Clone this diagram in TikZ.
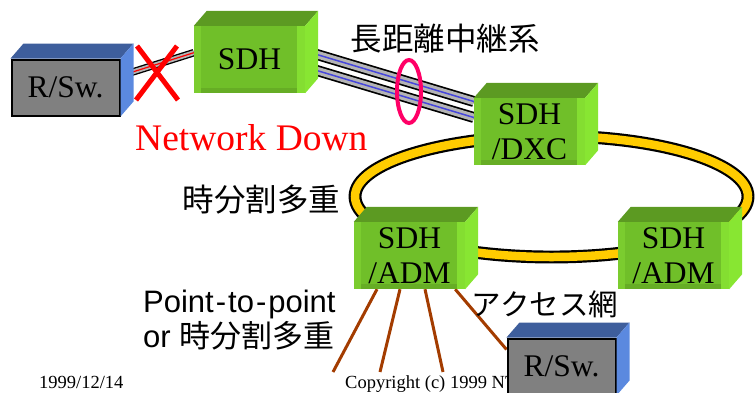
\documentclass[tikz,border=0pt]{standalone}
\usepackage{fontspec}
\setmainfont{Liberation Serif}
\newfontfamily\gothic{Noto Sans CJK JP}
\newfontfamily\arial{Liberation Sans}
\usetikzlibrary{backgrounds}

\definecolor{gtop}{HTML}{5C9A22}
\definecolor{gfront}{HTML}{70BF29}
\definecolor{gleft}{HTML}{7BCC2F}
\definecolor{gright}{HTML}{84DE31}
\definecolor{gbottom}{HTML}{66AD25}
\definecolor{gside}{HTML}{88E632}
\definecolor{rgray}{HTML}{808080}
\definecolor{btop}{HTML}{3E5E9C}
\definecolor{bside}{HTML}{5B89DF}
\definecolor{ringgold}{HTML}{FFCC00}
\definecolor{wirebrown}{HTML}{A33C00}
\definecolor{bundlepink}{HTML}{FF0066}
\definecolor{cablegray}{HTML}{B4B4B4}
\definecolor{cableblue}{HTML}{4646DC}

\begin{document}
\begin{tikzpicture}[x=1pt, y=-1pt,
    box/.style={inner sep=0pt, minimum width=111pt, minimum height=67pt, align=center, font=\fontsize{31.5}{35}\selectfont},
    sdhbox/.style={box, fill=gfront, path picture={
        \fill[gleft] (path picture bounding box.north west) rectangle ([xshift=7pt]path picture bounding box.south west);
        \fill[gright] ([xshift=-8pt]path picture bounding box.north east) rectangle (path picture bounding box.south east);
        \fill[gbottom] ([shift={(7pt,5pt)}]path picture bounding box.south west) rectangle ([xshift=-8pt]path picture bounding box.south east);
    }},
    router/.style={box, minimum width=108pt, minimum height=56pt, fill=rgray, draw=black, line width=2pt},
    cjk/.style={inner sep=0pt, font=\gothic\fontsize{31.5}{36}\selectfont},
    trunk/.style={draw=cableblue, line width=1.5pt, preaction={draw=black, line width=11pt}, preaction={draw=cablegray, line width=7.6pt}},
    link/.style={draw=red, line width=1.2pt, preaction={draw=black, line width=7.5pt}, preaction={draw=cablegray, line width=4.8pt}},
    ring/.style={draw=black, line width=2.2pt, double=ringgold, double distance=8.5pt},
    wire/.style={draw=wirebrown, line width=3pt},
    cut/.style={draw=red, line width=5pt}]
    \useasboundingbox (0,0) rectangle (755,392);

    \node[sdhbox] (sdh) at (249.5, 59.5) {SDH};
    \node[sdhbox] (dxc) at (529.5, 131.5) {SDH\\/DXC};
    \node[sdhbox] (adma) at (409.5, 255.5) {SDH\\/ADM};
    \node[sdhbox] (admb) at (673.5, 255.5) {SDH\\/ADM};
    \node[router] (rswa) at (65.5, 87.5) {R/Sw.};

    \node[anchor=base west, inner sep=0pt, font=\fontsize{18.5}{20}\selectfont] (date) at (39, 388) {1999/12/14};
    \node[anchor=base west, inner sep=0pt, font=\fontsize{18.5}{20}\selectfont] (copy) at (345, 388) {Copyright (c) 1999 NTT};

    \node[router] (rswb) at (561.5, 366.5) {R/Sw.};

    % top and side faces of the boxes
    \foreach \n in {sdh, dxc, adma, admb} {
        \fill[gtop] (\n.north west) -- ([shift={(13pt,15pt)}]\n.north west) -- ([shift={(13pt,15pt)}]\n.north east) -- (\n.north east) -- cycle;
        \fill[gside] (\n.north east) -- ([shift={(13pt,15pt)}]\n.north east) -- ([shift={(13pt,15pt)}]\n.south east) -- (\n.south east) -- cycle;
    }
    \foreach \n in {rswa, rswb} {
        \fill[btop] (\n.north west) -- ([shift={(13pt,15pt)}]\n.north west) -- ([shift={(13pt,15pt)}]\n.north east) -- (\n.north east) -- cycle;
        \fill[bside] (\n.north east) -- ([shift={(13pt,15pt)}]\n.north east) -- ([shift={(13pt,15pt)}]\n.south east) -- (\n.south east) -- cycle;
    }

    \coordinate (d1) at (333, 372);
    \coordinate (d2) at (380, 372);
    \coordinate (d3) at (443, 372);

    \begin{scope}[on background layer]
        \draw[ring] (551.5, 196.5) ellipse [x radius=196.5pt, y radius=60.5pt];
        \draw[trunk] ([yshift=8.5pt]sdh.east) -- ([yshift=30pt]dxc.west);
        \draw[trunk] ([yshift=-7.5pt]sdh.east) -- ([yshift=14pt]dxc.west);
        \draw[link] ([yshift=11.7pt]rswa.east) -- ([yshift=6.8pt]sdh.west);
        \draw[wire] ([xshift=-32.5pt]adma.south) -- (d1);
        \draw[wire] ([xshift=-9.5pt]adma.south) -- (d2);
        \draw[wire] ([xshift=15.5pt]adma.south) -- (d3);
        \draw[wire] ([xshift=-10pt]adma.south east) -- ([yshift=17pt]rswb.west);
    \end{scope}

    \draw[cut] (137, 46) -- (178, 100) (177, 46) -- (136, 100);
    \draw[bundlepink, line width=4pt] (409, 91.5) ellipse [x radius=12pt, y radius=31.5pt];

    \node[cjk] (trunklabel) at (445, 38.5) {長距離中継系};
    \node[cjk] (tdm) at (261.5, 199.5) {時分割多重};
    \node[cjk, font=\gothic\fontsize{29.5}{34}\selectfont] (access) at (545, 304) {アクセス網};
    \node[anchor=base west, inner sep=0pt, text=red, font=\fontsize{37.5}{40}\selectfont] (down) at (135, 150) {Network Down};
    \node[anchor=north west, inner sep=0pt, align=left, font=\arial\fontsize{31}{35}\selectfont] (p2p) at (143, 290)
        {Point\kern2pt-\kern2pt to\kern2pt-\kern2pt point\\or {\gothic 時分割多重}};
\end{tikzpicture}
\end{document}
